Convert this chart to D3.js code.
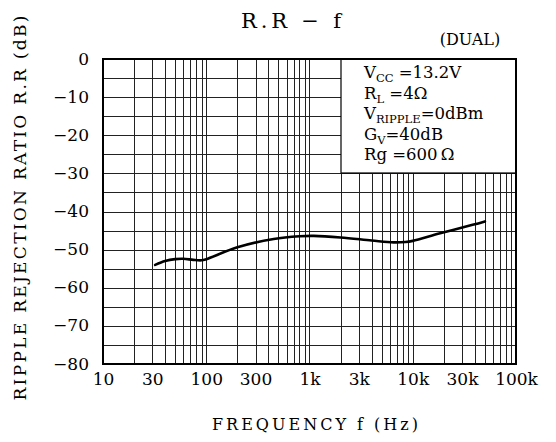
<!DOCTYPE html>
<html>
<head>
<meta charset="utf-8">
<script src="https://cdn.jsdelivr.net/npm/d3@7/dist/d3.min.js"></script>
<style>
  body { margin: 0; background: #fff; }
  svg text { font-family: "DejaVu Serif", "Liberation Serif", serif; fill: #000; }
</style>
</head>
<body>
<div id="chart"></div>
<script>
// curve (Hz, dB)
var freqs = [32, 40, 50, 60, 75, 90, 100, 200, 450, 800, 1100, 2000, 4000, 6500, 8500, 10000, 18000, 38000, 50000];
var rrDb  = [-54.0, -53.0, -52.5, -52.4, -52.7, -52.8, -52.5, -49.4, -47.2, -46.5, -46.4, -46.8, -47.6, -48.1, -48.0, -47.7, -45.8, -43.5, -42.6];

var xTicks = [10, 30, 100, 300, 1000, 3000, 10000, 30000, 100000];
var xTickLabels = ["10", "30", "100", "300", "1k", "3k", "10k", "30k", "100k"];
var yTicks = [0, -10, -20, -30, -40, -50, -60, -70, -80];

// conditions box: [main, subscript, rest]
var condLines = [
  ["V", "CC", " =13.2V"],
  ["R", "L", " =4\u03A9"],
  ["V", "RIPPLE", "=0dBm"],
  ["G", "V", "=40dB"],
  ["Rg =600\u2009\u03A9", "", ""]
];

var W = 556, H = 442;
var pLeft = 103, pRight = 516, pTop = 59, pBottom = 364;

var svg = d3.select("#chart").append("svg")
  .attr("width", W)
  .attr("height", H);

var x = d3.scaleLog().domain([10, 100000]).range([pLeft, pRight]);
var y = d3.scaleLinear().domain([-80, 0]).range([pBottom, pTop]);

// grid - minor lines 2..9 in each decade
var vLines = [];
for (var d = 10; d < 100000; d *= 10) {
  for (var m = 1; m < 10; m++) vLines.push(d * m);
}
svg.append("g").selectAll("line")
  .data(vLines)
  .enter().append("line")
  .attr("x1", function (d) { return Math.round(x(d)) + 0.5; })
  .attr("x2", function (d) { return Math.round(x(d)) + 0.5; })
  .attr("y1", pTop)
  .attr("y2", pBottom)
  .attr("stroke", "#222")
  .attr("stroke-width", 1);

var hLines = d3.range(-80, 1, 5);
svg.append("g").selectAll("line")
  .data(hLines)
  .enter().append("line")
  .attr("x1", pLeft)
  .attr("x2", pRight)
  .attr("y1", function (d) { return Math.round(y(d)) + 0.5; })
  .attr("y2", function (d) { return Math.round(y(d)) + 0.5; })
  .attr("stroke", "#222")
  .attr("stroke-width", 1);

// conditions box covers grid in upper right
var bx = Math.round(x(2000)), by = Math.round(y(-30));
svg.append("rect")
  .attr("x", bx)
  .attr("y", pTop)
  .attr("width", pRight - bx)
  .attr("height", by - pTop)
  .attr("fill", "#fff")
  .attr("stroke", "#000")
  .attr("stroke-width", 1.2);

var cond = svg.append("g");
condLines.forEach(function (l, i) {
  var t = cond.append("text")
    .attr("x", 364)
    .attr("y", 78 + i * 20.5)
    .attr("font-size", "16.5px");
  t.append("tspan").text(l[0]);
  if (l[1]) {
    t.append("tspan").attr("dy", 4).attr("font-size", "11.5px").text(l[1]);
    t.append("tspan").attr("dy", -4).text(l[2]);
  }
});

// plot frame
svg.append("rect")
  .attr("x", pLeft)
  .attr("y", pTop)
  .attr("width", pRight - pLeft)
  .attr("height", pBottom - pTop)
  .attr("fill", "none")
  .attr("stroke", "#000")
  .attr("stroke-width", 2);

// curve
var pts = freqs.map(function (f, i) { return [f, rrDb[i]]; });
var line = d3.line()
  .x(function (d) { return x(d[0]); })
  .y(function (d) { return y(d[1]); })
  .curve(d3.curveCatmullRom);
svg.append("path")
  .datum(pts)
  .attr("d", line)
  .attr("fill", "none")
  .attr("stroke", "#000")
  .attr("stroke-width", 2.6)
  .attr("stroke-linecap", "round");

// axes (labels only)
var xAxis = d3.axisBottom(x)
  .tickValues(xTicks)
  .tickFormat(function (d, i) { return xTickLabels[i]; })
  .tickSize(0)
  .tickPadding(0);
var gx = svg.append("g").attr("transform", "translate(0," + (pBottom + 7) + ")").call(xAxis);
gx.select(".domain").remove();
gx.selectAll("text")
  .attr("font-family", "DejaVu Serif, serif")
  .attr("font-size", "17px")
  .attr("dy", "0.85em")
  .attr("fill", "#000");

var yAxis = d3.axisLeft(y)
  .tickValues(yTicks)
  .tickFormat(function (d) { return d === 0 ? "0" : "\u2212" + Math.abs(d); })
  .tickSize(0)
  .tickPadding(0);
var gy = svg.append("g").attr("transform", "translate(" + (pLeft - 14) + ",0)").call(yAxis);
gy.select(".domain").remove();
gy.selectAll("text")
  .attr("font-family", "DejaVu Serif, serif")
  .attr("font-size", "17px")
  .attr("dy", "0.3em")
  .attr("fill", "#000");

// titles
svg.append("text")
  .attr("x", 291)
  .attr("y", 28)
  .attr("text-anchor", "middle")
  .attr("font-size", "21px")
  .attr("textLength", 100)
  .attr("lengthAdjust", "spacing")
  .text("R.R  \u2212  f");

svg.append("text")
  .attr("x", 470)
  .attr("y", 45)
  .attr("text-anchor", "middle")
  .attr("font-size", "16px")
  .text("(DUAL)");

svg.append("text")
  .attr("x", 315)
  .attr("y", 430)
  .attr("text-anchor", "middle")
  .attr("font-size", "16px")
  .attr("textLength", 206)
  .attr("lengthAdjust", "spacing")
  .text("FREQUENCY  f  (Hz)");

svg.append("text")
  .attr("transform", "translate(26,208) rotate(-90)")
  .attr("text-anchor", "middle")
  .attr("font-size", "17px")
  .attr("textLength", 385)
  .attr("lengthAdjust", "spacing")
  .text("RIPPLE  REJECTION  RATIO  R.R  (dB)");
</script>
</body>
</html>
